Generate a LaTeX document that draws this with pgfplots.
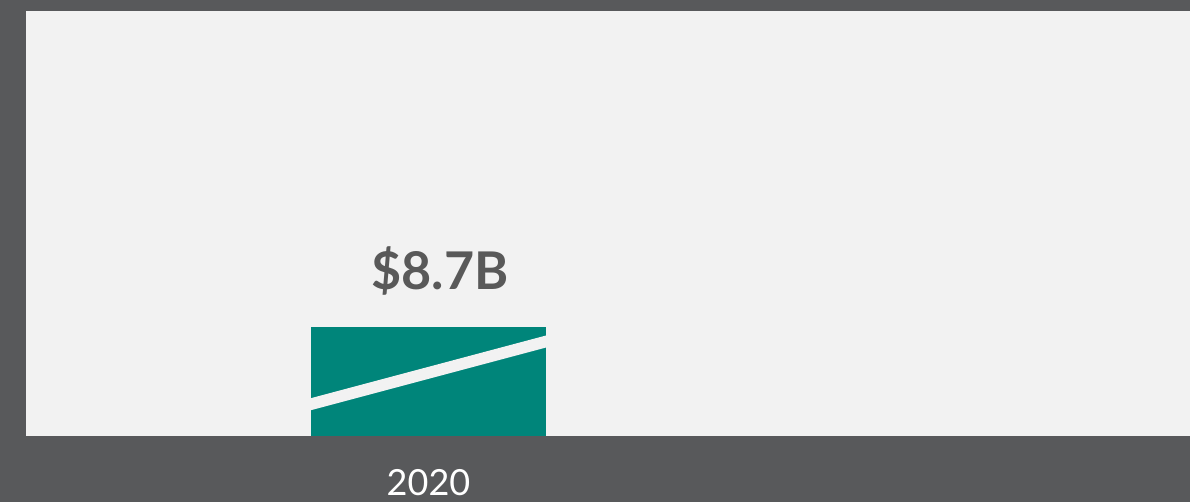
\documentclass[border=0pt]{standalone}
\usepackage{pgfplots}
\pgfplotsset{compat=1.18}
\usepackage{fontspec}
\setmainfont{Lato}
\definecolor{bgdark}{HTML}{58595B}
\definecolor{plotbg}{HTML}{F2F2F2}
\definecolor{teal}{HTML}{00857A}
\definecolor{labgray}{HTML}{595959}
\begin{document}
\begin{tikzpicture}[x=1pt,y=1pt]
\useasboundingbox (0,0) rectangle (1190,502);
\fill[bgdark] (0,0) rectangle (1190,502);
\begin{axis}[
  at={(26pt,66pt)}, anchor=south west,
  scale only axis, width=1164pt, height=425pt,
  xmin=0, xmax=1164, ymin=0, ymax=33.92,
  axis background/.style={fill=plotbg},
  axis line style={draw=none},
  xtick=\empty, ytick=\empty,
  clip=false,
]
\addplot[ybar, bar width=235, fill=teal, draw=none] coordinates {(402.5,8.7)};
\addplot[fill=plotbg, draw=none] coordinates {(285,2.06) (520,7.06) (520,8.02) (285,3.02)} -- cycle;
\node[anchor=base, text=labgray, font=\fontsize{52}{60}\selectfont\bfseries] at (axis cs:414,11.73) {\$8.7B};
\node[anchor=base, text=white, font=\fontsize{36}{42}\selectfont, yshift=-60pt] at (axis cs:402.5,0) {2020};
\end{axis}
\end{tikzpicture}
\end{document}
